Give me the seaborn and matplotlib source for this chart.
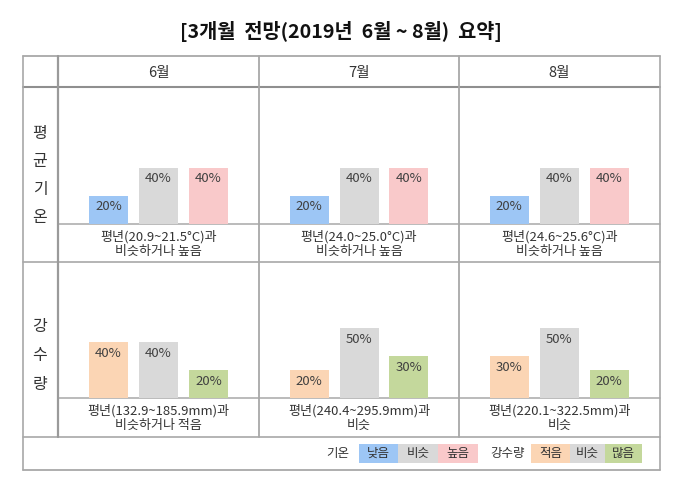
import numpy as np
import pandas as pd
import matplotlib
matplotlib.use("Agg")
import matplotlib.pyplot as plt
import seaborn as sns
from matplotlib.patches import Rectangle

# 3개월 전망 요약 (기온 / 강수량 확률)
months = ['6월', '7월', '8월']
temp_cats = ['낮음', '비슷', '높음']
rain_cats = ['적음', '비슷', '많음']

temp_low = [20, 20, 20]
temp_similar = [40, 40, 40]
temp_high = [40, 40, 40]

rain_low = [40, 20, 30]
rain_similar = [40, 50, 50]
rain_high = [20, 30, 20]

temp_notes = ['평년(20.9~21.5°C)과\n비슷하거나 높음',
              '평년(24.0~25.0°C)과\n비슷하거나 높음',
              '평년(24.6~25.6°C)과\n비슷하거나 높음']
rain_notes = ['평년(132.9~185.9mm)과\n비슷하거나 적음',
              '평년(240.4~295.9mm)과\n비슷',
              '평년(220.1~322.5mm)과\n비슷']

temp_colors = ['#9dc6f5', '#d9d9d9', '#f9c9ca']
rain_colors = ['#fbd5b4', '#d9d9d9', '#c4d89c']

sns.set_theme(style='white')
plt.rcParams['font.family'] = ['Noto Sans CJK KR', 'DejaVu Sans']

W, H = 680, 490
fig = plt.figure(figsize=(W / 100, H / 100), dpi=100)
ax = fig.add_axes([0, 0, 1, 1])
ax.set_xlim(0, W)
ax.set_ylim(H, 0)
ax.axis('off')

line_c = '#a8a8a8'
txt_c = '#333333'

# table frame
left, lab_x, right = 22.5, 58, 659.5
col_x = [58, 259, 459, 659.5]
top, head_b, r1_base, r1_b, r2_base, r2_b, bottom = 55.7, 87.3, 223.5, 261.7, 398, 436.7, 470

ax.plot([left, right], [top, top], color=line_c, lw=1.3)
ax.plot([left, right], [head_b, head_b], color='#8f8f8f', lw=1.5)
ax.plot([left, right], [r1_b, r1_b], color=line_c, lw=1.2)
ax.plot([left, right], [r2_b, r2_b], color=line_c, lw=1.2)
ax.plot([left, right], [bottom, bottom], color=line_c, lw=1.3)
ax.plot([lab_x, right], [r1_base, r1_base], color=line_c, lw=1.1)
ax.plot([lab_x, right], [r2_base, r2_base], color=line_c, lw=1.1)
ax.plot([left, left], [top, bottom], color=line_c, lw=1.2)
ax.plot([right, right], [top, bottom], color=line_c, lw=1.2)
ax.plot([lab_x, lab_x], [top, r2_b], color='#9a9a9a', lw=1.6)
for x in col_x[1:3]:
    ax.plot([x, x], [top, r2_b], color=line_c, lw=1.3)

ax.text(341, 32, '[3개월  전망(2019년  6월 ~ 8월)  요약]', ha='center', va='center',
        fontsize=14.2, fontweight='bold', color='#111111')

for i, m in enumerate(months):
    cx = (col_x[i] + col_x[i + 1]) / 2
    ax.text(cx, 72.5, m, ha='center', va='center', fontsize=10.5, color=txt_c)
    ax.text(cx, 244, temp_notes[i], ha='center', va='center', fontsize=9.4,
            color=txt_c, linespacing=1.15)
    ax.text(cx, 418, rain_notes[i], ha='center', va='center', fontsize=9.4,
            color=txt_c, linespacing=1.15)

for ch, y in zip('평균기온', [133, 161, 189, 217]):
    ax.text(40, y, ch, ha='center', va='center', fontsize=11.5, color=txt_c)
for ch, y in zip('강수량', [326, 355, 384]):
    ax.text(40, y, ch, ha='center', va='center', fontsize=11.5, color=txt_c)

# legend row
ax.text(338, 453, '기온', ha='center', va='center', fontsize=9, color=txt_c)
ax.text(508, 453, '강수량', ha='center', va='center', fontsize=9, color=txt_c)
leg_boxes = [(359, 398, temp_cats[0], temp_colors[0]), (398, 438, temp_cats[1], temp_colors[1]),
             (438, 478, temp_cats[2], temp_colors[2]), (531, 570, rain_cats[0], rain_colors[0]),
             (570, 605, rain_cats[1], rain_colors[1]), (605, 642, rain_cats[2], rain_colors[2])]
for x0, x1, lab, c in leg_boxes:
    ax.add_patch(Rectangle((x0, 444), x1 - x0, 18.7, facecolor=c, edgecolor='none'))
    ax.text((x0 + x1) / 2, 453, lab, ha='center', va='center', fontsize=9, color=txt_c)

# bars
px_per_pct = 1.4
ymax = 80


def cell_bars(cx, base, cats, vals, colors):
    cax = fig.add_axes([(cx - 75) / W, (H - base) / H, 150 / W, ymax * px_per_pct / H])
    df = pd.DataFrame({'cat': cats, 'pct': vals})
    sns.barplot(data=df, x='cat', y='pct', hue='cat', order=cats, hue_order=cats,
                palette=colors, width=0.78, errorbar=None, legend=False, ax=cax,
                saturation=1, linewidth=0)
    cax.set_xlim(-0.5, 2.5)
    cax.set_ylim(0, ymax)
    cax.axis('off')
    for p in cax.patches:
        h = p.get_height()
        cax.annotate(f'{h:.0f}%', (p.get_x() + p.get_width() / 2, h), xytext=(0, -8),
                     textcoords='offset points', ha='center', va='center',
                     fontsize=9.5, color='#404040')


for i in range(3):
    cx = (col_x[i] + col_x[i + 1]) / 2
    cell_bars(cx, r1_base, temp_cats, [temp_low[i], temp_similar[i], temp_high[i]], temp_colors)
    cell_bars(cx, r2_base, rain_cats, [rain_low[i], rain_similar[i], rain_high[i]], rain_colors)

fig.savefig('out.png', dpi=100)
